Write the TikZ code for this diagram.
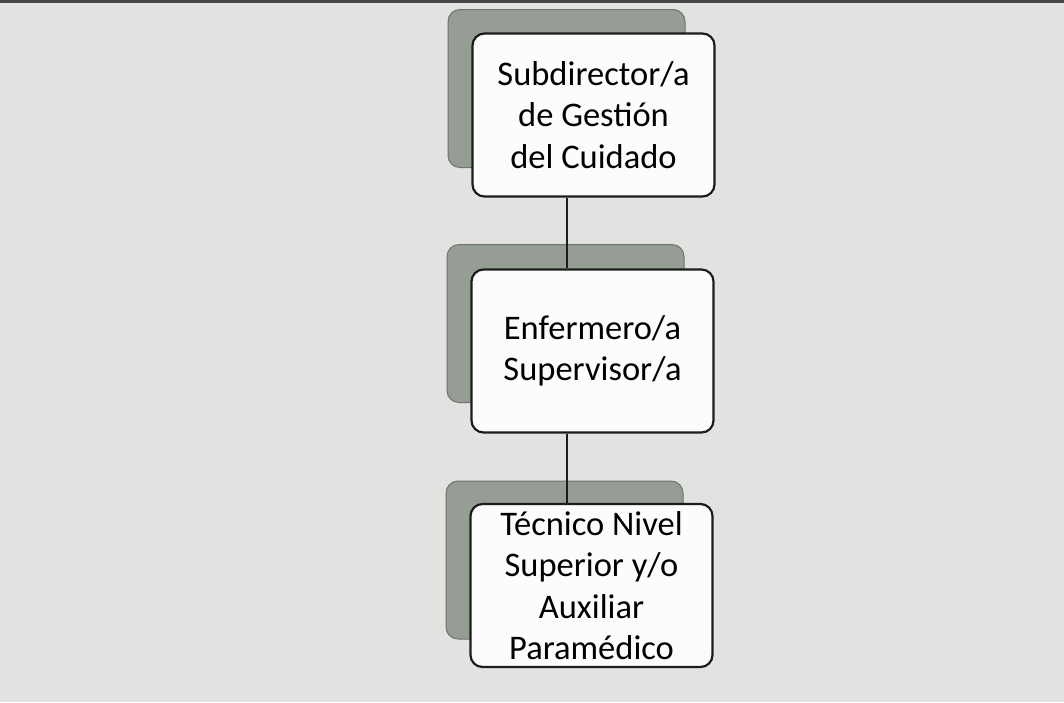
\documentclass[tikz,border=0pt]{standalone}
\usepackage{fontspec}
\setmainfont{Carlito}
\definecolor{bgc}{RGB}{226,226,224}
\definecolor{shc}{RGB}{150,157,148}
\definecolor{shd}{RGB}{110,115,108}
\definecolor{frc}{RGB}{252,252,252}
\definecolor{edc}{RGB}{28,28,28}
\definecolor{topc}{RGB}{70,70,70}
\tikzset{
  shadowbox/.style={rectangle, rounded corners=12pt, fill=shc, draw=shd, line width=1pt,
    minimum width=237pt, minimum height=158pt, inner sep=0pt},
  frontbox/.style={rectangle, rounded corners=12pt, fill=frc, draw=edc, line width=2.2pt,
    minimum width=242pt, minimum height=163pt, inner sep=0pt, align=center,
    font=\fontsize{34.5pt}{41.5pt}\selectfont, text=black},
  link/.style={draw=edc, line width=2pt}
}
\begin{document}
\begin{tikzpicture}[x=1pt,y=-1pt]
\fill[bgc] (0,0) rectangle (1064,702);
\useasboundingbox (0,0) rectangle (1064,702);
\fill[topc] (0,0) rectangle (1064,3);
\node[shadowbox] (s1) at (566.5,88.5) {};
\node[shadowbox] (s2) at (565.5,323.5) {};
\node[shadowbox] (s3) at (564.5,560) {};
\node[frontbox] (b1) at (593.5,115) {Subdirector/a\\de Gestión\\del Cuidado};
\node[frontbox] (b2) at (592.5,351) {Enfermero/a\\Supervisor/a};
\node[frontbox] (b3) at (591.5,585.5) {Técnico Nivel\\Superior y/o\\Auxiliar\\Paramédico};
\draw[link] (b1.south -| s1.center) -- (b2.north -| s1.center);
\draw[link] (b2.south -| s1.center) -- (b3.north -| s1.center);
\end{tikzpicture}
\end{document}
